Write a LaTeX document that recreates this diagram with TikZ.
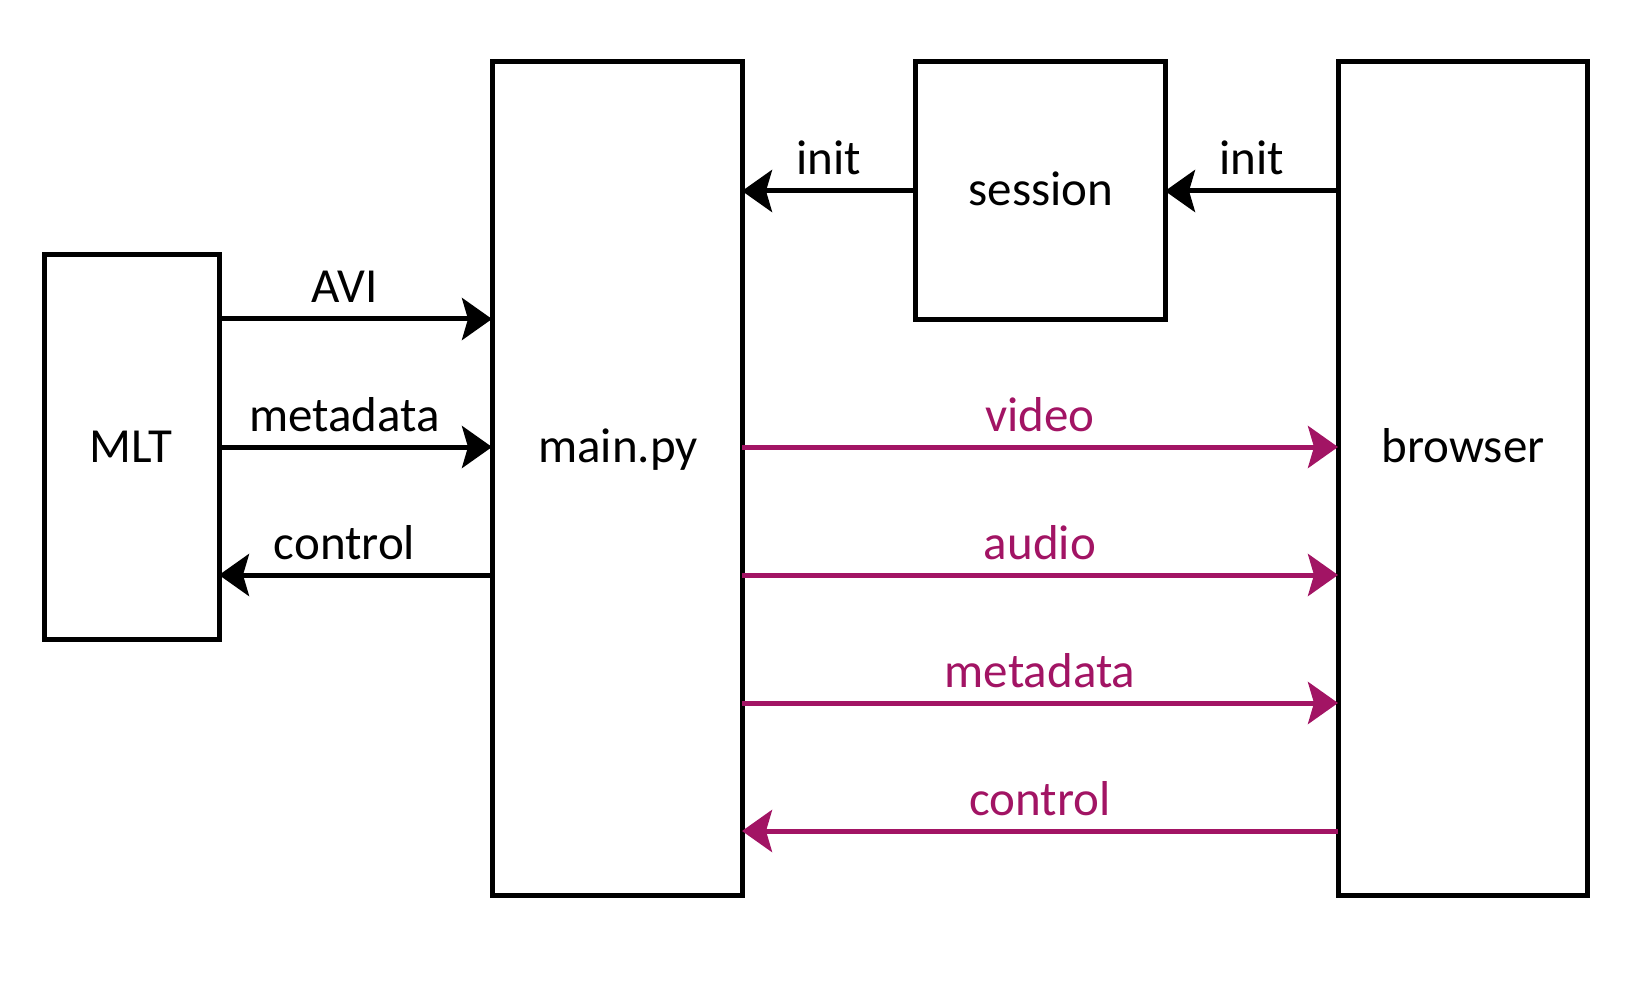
\documentclass[tikz,border=0pt]{standalone}
\usepackage{fontspec}
\setmainfont{Carlito}
\usetikzlibrary{arrows.meta}
\definecolor{berry}{RGB}{162,20,100}
\begin{document}
\begin{tikzpicture}[x=1pt,y=-1pt,
  box/.style={draw,line width=5pt,inner sep=0pt,outer sep=0pt},
  txt/.style={font=\fontsize{49}{58}\selectfont,inner sep=0pt,anchor=base},
  lbl/.style={font=\fontsize{49}{58}\selectfont,inner sep=0pt,anchor=base,yshift=16pt},
  conn/.style={line width=5pt,-{Stealth[length=30pt,width=42pt,inset=6pt]}},
  pconn/.style={conn,draw=berry},
  plbl/.style={lbl,text=berry}]
\useasboundingbox (0,0) rectangle (1646,981);
\node[box,minimum width=175pt,minimum height=384pt] (mlt) at (131.5,447) {};
\node[box,minimum width=250pt,minimum height=833pt] (main) at (617,478.5) {};
\node[box,minimum width=250pt,minimum height=258pt] (session) at (1040,191) {};
\node[box,minimum width=249pt,minimum height=833pt] (browser) at (1462.5,478.5) {};
\node[txt] (tmlt) at (131,462) {MLT};
\node[txt] (tmain) at (618,462) {main.py};
\node[txt] (tsession) at (1041,206) {session};
\node[txt] (tbrowser) at (1463,462) {browser};
\coordinate (r1) at (0,319);
\coordinate (r2) at (0,447);
\coordinate (r3) at (0,575);
\coordinate (r4) at (0,703);
\coordinate (r5) at (0,831);
\draw[conn] (session.west) -- (main.east |- session.west) node[lbl,pos=0.5] {init};
\draw[conn] (browser.west |- session.east) -- (session.east) node[lbl,pos=0.5] {init};
\draw[conn] (mlt.east |- r1) -- (main.west |- r1) node[lbl,pos=0.46] {AVI};
\draw[conn] (mlt.east |- r2) -- (main.west |- r2) node[lbl,pos=0.46] {metadata};
\draw[conn] (main.west |- r3) -- (mlt.east |- r3) node[lbl,pos=0.54] {control};
\draw[pconn] (main.east |- r2) -- (browser.west |- r2) node[plbl,pos=0.5] {video};
\draw[pconn] (main.east |- r3) -- (browser.west |- r3) node[plbl,pos=0.5] {audio};
\draw[pconn] (main.east |- r4) -- (browser.west |- r4) node[plbl,pos=0.5] {metadata};
\draw[pconn] (browser.west |- r5) -- (main.east |- r5) node[plbl,pos=0.5] {control};
\end{tikzpicture}
\end{document}
